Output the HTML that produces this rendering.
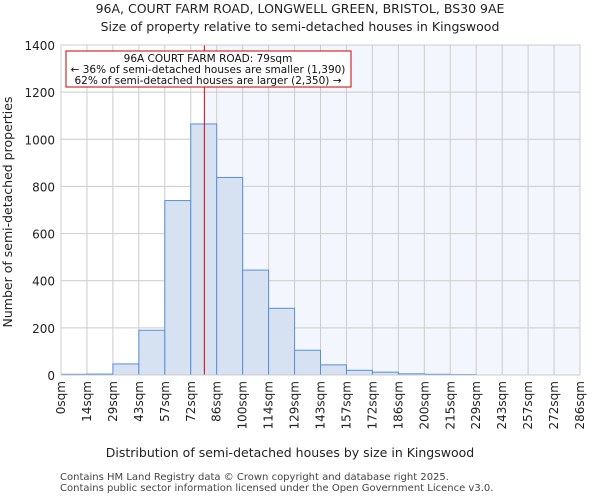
<!DOCTYPE html>
<html><head><meta charset="utf-8"><style>
body{margin:0;background:#fff;font-family:"DejaVu Sans","Liberation Sans",sans-serif;}
svg text{font-family:"DejaVu Sans","Liberation Sans",sans-serif;}
</style></head><body>
<svg id="chart" width="600" height="500" viewBox="0 0 600 500">
<text x="300" y="13" text-anchor="middle" font-size="12.5" fill="#222">96A, COURT FARM ROAD, LONGWELL GREEN, BRISTOL, BS30 9AE</text>
<text x="300" y="31" text-anchor="middle" font-size="12.5" fill="#222">Size of property relative to semi-detached houses in Kingswood</text>
<g id="plot"></g>
<text x="290" y="457" text-anchor="middle" font-size="12.5" fill="#222">Distribution of semi-detached houses by size in Kingswood</text>
<text transform="translate(12,212) rotate(-90)" text-anchor="middle" font-size="12.5" fill="#222">Number of semi-detached properties</text>
<text x="60" y="480" font-size="10" fill="#444">Contains HM Land Registry data © Crown copyright and database right 2025.</text>
<text x="60" y="491" font-size="10" fill="#444">Contains public sector information licensed under the Open Government Licence v3.0.</text>
</svg>
<script>
const tickLabels=["0sqm","14sqm","29sqm","43sqm","57sqm","72sqm","86sqm","100sqm","114sqm","129sqm","143sqm","157sqm","172sqm","186sqm","200sqm","215sqm","229sqm","243sqm","257sqm","272sqm","286sqm"];
const counts=[3,4,47,190,740,1065,838,445,283,105,43,20,12,5,3,2,0,0,0,0];
const yTicks=[0,200,400,600,800,1000,1200,1400];
const propertySize=79;
const xMax=286;
const NS="http://www.w3.org/2000/svg";
const g=document.getElementById("plot");
const L=61,R=580,T=45,B=375,yMax=1400;
const nb=counts.length;
const xs=i=>L+(R-L)*i/nb;
const xv=v=>L+(R-L)*v/xMax;
const ys=v=>B-(B-T)*v/yMax;
function mk(t,a){const e=document.createElementNS(NS,t);for(const k in a)e.setAttribute(k,a[k]);g.appendChild(e);return e;}
const px=xv(propertySize);
let e=mk("rect",{x:px,y:T,width:R-px,height:B-T,fill:"#f3f6fd"});


for(let i=0;i<tickLabels.length;i++){
 e=mk("line",{x1:xs(i),x2:xs(i),y1:T,y2:B,stroke:"#ccc","stroke-width":1});
 
 
 const x=xs(i);
 e=mk("text",{transform:`translate(${x+4},${B+6}) rotate(-90)`,"text-anchor":"end","font-size":"12",fill:"#222"});
 e.textContent=tickLabels[i];
 
 
}
yTicks.forEach(v=>{
 e=mk("line",{x1:L,x2:R,y1:ys(v),y2:ys(v),stroke:"#ccc","stroke-width":1});
 
 
 e=mk("text",{x:L-6,y:ys(v)+5,"text-anchor":"end","font-size":"12",fill:"#222"});
 e.textContent=v;
 
 
});
counts.forEach((c,i)=>{
 if(c<=0)return;
 e=mk("rect",{x:xs(i),y:ys(c),width:xs(i+1)-xs(i),height:B-ys(c),fill:"#d6e1f2",stroke:"#5a8fd8","stroke-width":1});
 
 
});
e=mk("line",{x1:px,x2:px,y1:T,y2:B,stroke:"#d00","stroke-width":1});


e=mk("rect",{x:L,y:T,width:R-L,height:B-T,fill:"none",stroke:"#ccc"});


e=mk("rect",{x:66,y:51,width:285,height:36,fill:"#fff",stroke:"#c00","stroke-width":1});


["96A COURT FARM ROAD: 79sqm","← 36% of semi-detached houses are smaller (1,390)","62% of semi-detached houses are larger (2,350) →"].forEach((s,i)=>{
 e=mk("text",{x:208,y:62+i*11,"text-anchor":"middle","font-size":"10.5",fill:"#111"});
 e.textContent=s;
 
 
});
</script>
</body></html>
